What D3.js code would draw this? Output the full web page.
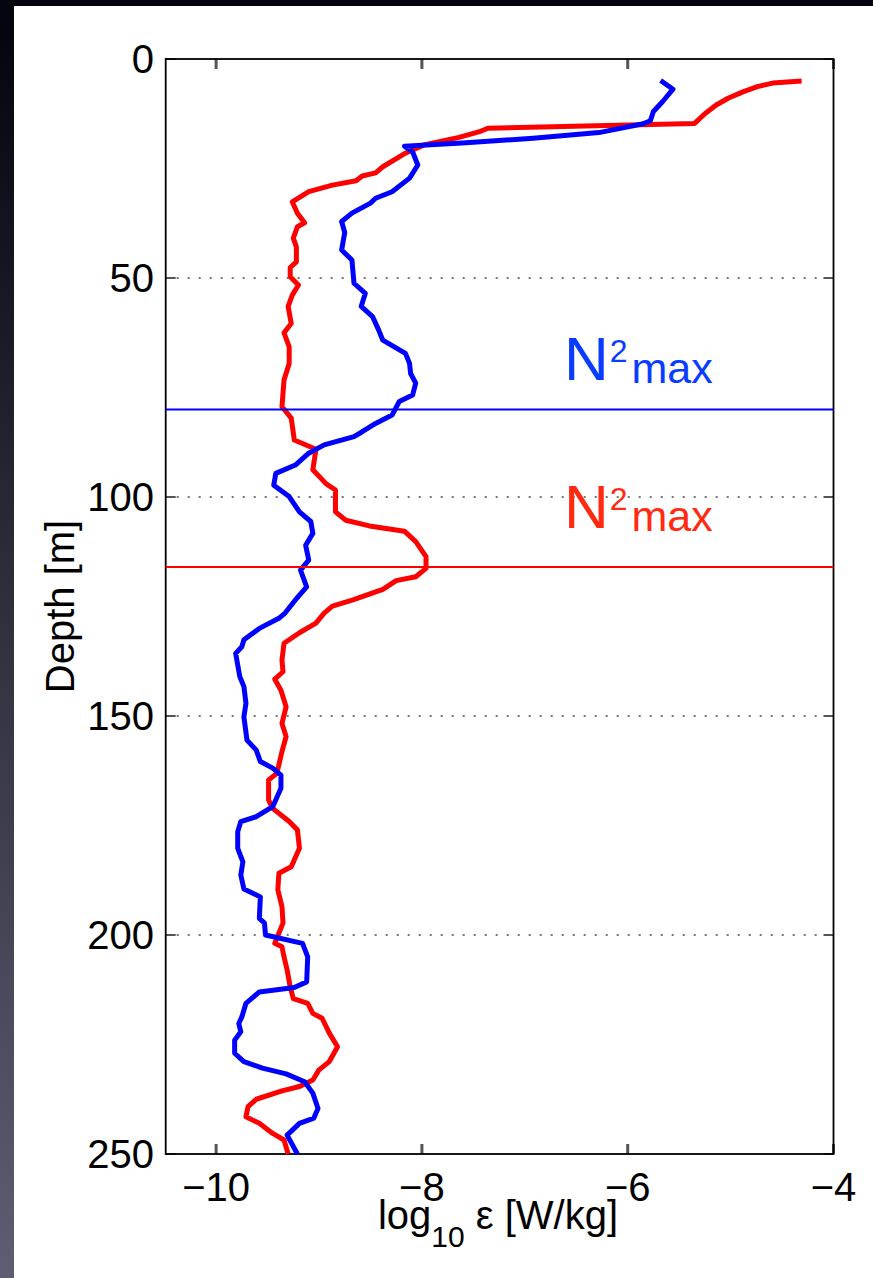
<!DOCTYPE html>
<html>
<head>
<meta charset="utf-8">
<script src="https://cdn.jsdelivr.net/npm/d3@7"></script>
<style>
  body { margin: 0; background: #000; }
  text { font-family: "Liberation Sans", Arial, sans-serif; }
</style>
</head>
<body>
<div id="chart"></div>
<script>
// depth [m] and log10 epsilon for the two profiles
var redDepth = [5.0, 5.5, 6.3, 7.5, 8.9, 10.5, 12.5, 14.7, 15.8, 16.6, 17.9, 19.6, 21.5, 24.6, 26.0, 26.7, 27.8, 28.8, 30.3, 32.6, 35.2, 37.4, 38.3,
  40.9, 42.9, 46.3, 47.6, 49.7, 51.6, 53.9, 56.5, 60.4, 62.5, 65.7, 69.5, 73.3, 79.4, 82.0, 87.0, 89.1, 93.8, 97.0, 98.4,
  103.4, 105.3, 106.6, 107.8, 110.2, 113.6, 116.3, 118.2, 119.1, 121.1, 123.5, 124.9, 126.5, 128.8, 131.0, 133.4, 137.2, 139.9, 141.6, 144.1,
  147.9, 151.7, 154.7, 158.1, 163.1, 164.6, 169.2, 171.1, 174.1, 176.0, 180.2, 184.4, 185.9, 189.7, 193.5, 197.3, 199.6, 201.9, 202.7, 205.0,
  208.0, 211.8, 214.5, 215.6, 217.9, 219.0, 222.4, 225.5, 228.9, 230.8, 233.1, 234.6, 235.6, 237.5, 239.2, 241.5, 243.0, 245.3, 246.8, 250];
var redEps = [-4.31, -4.59, -4.74, -4.88, -5.02, -5.14, -5.25, -5.35, -7.36, -7.44, -7.64, -7.98, -8.16, -8.38, -8.45, -8.58, -8.64, -8.87, -9.10, -9.26, -9.21, -9.14, -9.21,
  -9.25, -9.22, -9.22, -9.28, -9.28, -9.20, -9.26, -9.30, -9.27, -9.34, -9.29, -9.29, -9.34, -9.36, -9.27, -9.24, -9.03, -9.06, -8.93, -8.84,
  -8.84, -8.74, -8.51, -8.17, -8.06, -7.96, -7.96, -8.06, -8.25, -8.38, -8.67, -8.87, -8.95, -9.03, -9.19, -9.34, -9.36, -9.35, -9.43, -9.37,
  -9.32, -9.36, -9.32, -9.36, -9.41, -9.49, -9.49, -9.45, -9.29, -9.21, -9.19, -9.27, -9.39, -9.40, -9.36, -9.35, -9.39, -9.43, -9.36, -9.34,
  -9.31, -9.28, -9.25, -9.11, -9.06, -8.97, -8.90, -8.82, -8.90, -9.00, -9.06, -9.19, -9.36, -9.61, -9.69, -9.71, -9.58, -9.45, -9.34, -9.30];

var blueDepth = [4.9, 6.9, 9.7, 12.0, 14.1, 14.8, 16.8, 18.1, 19.1, 19.9, 21.2, 24.2, 27.2, 30.3, 31.8, 32.9, 35.2, 37.1, 39.6, 43.6,
  45.9, 51.2, 53.5, 56.5, 58.8, 61.9, 64.2, 67.2, 69.5, 71.8, 74.0, 76.7, 78.2, 81.3, 83.2, 85.1, 86.2, 88.1, 90.0, 92.7,
  94.6, 97.3, 99.9, 103.4, 105.6, 108.3, 111.0, 114.4, 116.7, 120.5, 123.5, 126.5, 127.7, 130.0, 132.6, 134.2, 135.7, 141.0, 143.3, 147.1,
  150.2, 155.5, 157.8, 160.4, 161.9, 163.5, 166.5, 170.7, 173.0, 174.1, 176.4, 180.2, 183.3, 186.3, 189.5, 191.3, 196.2, 197.3, 200.0, 201.9,
  205.0, 210.7, 212.0, 213.0, 215.6, 218.7, 220.2, 222.1, 224.0, 227.0, 228.9, 230.4, 231.7, 233.5, 236.1, 239.6, 241.8, 243.0, 245.7, 250];
var blueEps = [-5.68, -5.56, -5.66, -5.75, -5.78, -5.85, -6.28, -6.92, -7.57, -8.17, -8.09, -8.04, -8.12, -8.29, -8.45, -8.50, -8.68, -8.78, -8.75, -8.78,
  -8.68, -8.66, -8.55, -8.59, -8.48, -8.42, -8.38, -8.16, -8.12, -8.11, -8.06, -8.09, -8.22, -8.29, -8.45, -8.58, -8.66, -8.95, -9.10, -9.23,
  -9.42, -9.44, -9.29, -9.19, -9.08, -9.06, -9.13, -9.10, -9.18, -9.12, -9.23, -9.33, -9.39, -9.58, -9.73, -9.75, -9.81, -9.77, -9.73, -9.71,
  -9.73, -9.70, -9.61, -9.57, -9.45, -9.37, -9.37, -9.45, -9.61, -9.76, -9.79, -9.79, -9.74, -9.76, -9.73, -9.57, -9.58, -9.53, -9.52, -9.16,
  -9.11, -9.12, -9.24, -9.58, -9.71, -9.75, -9.78, -9.76, -9.82, -9.82, -9.73, -9.55, -9.32, -9.14, -9.06, -9.01, -9.05, -9.19, -9.31, -9.21];

// N^2 max depths (horizontal markers)
var n2maxBlue = 80, n2maxRed = 116;

var xTicks = [-10, -8, -6, -4];
var yTicks = [0, 50, 100, 150, 200, 250];

var W = 873, H = 1278;
var svg = d3.select("#chart").append("svg")
  .attr("width", W).attr("height", H);

// dark slide background with a gradient strip on the left
var defs = svg.append("defs");
var grad = defs.append("linearGradient").attr("id", "bg")
  .attr("x1", 0).attr("y1", 0).attr("x2", 0).attr("y2", 1);
grad.append("stop").attr("offset", "0%").attr("stop-color", "#03030d");
grad.append("stop").attr("offset", "100%").attr("stop-color", "#5e5e72");
svg.append("rect").attr("width", W).attr("height", H).attr("fill", "url(#bg)");
svg.append("rect").attr("width", W).attr("height", 6).attr("fill", "#04040c");
svg.append("rect").attr("x", 14).attr("y", 6).attr("width", W - 14).attr("height", H - 6).attr("fill", "#fff");

var x = d3.scaleLinear().domain([-10.49, -4]).range([165.7, 833.5]);
var y = d3.scaleLinear().domain([0, 250]).range([59, 1154]);
var x0 = x.range()[0], x1 = x.range()[1], y0 = y.range()[0], y1 = y.range()[1];

// dotted grid
svg.append("g").attr("fill", "none").attr("stroke", "#666").attr("stroke-dasharray", "2,9")
  .selectAll("path").data(xTicks.filter(function(d) { return d > -4; })).enter().append("path")
  .attr("d", function(d) { return "M" + x(d) + "," + y0 + "L" + x(d) + "," + y1; })
  .attr("stroke-width", 3);
svg.append("g").attr("fill", "none").attr("stroke", "#777").attr("stroke-dasharray", "2,9")
  .selectAll("path").data(yTicks.filter(function(d) { return d > 0 && d < 250; })).enter().append("path")
  .attr("d", function(d) { return "M" + x0 + "," + y(d) + "L" + x1 + "," + y(d); })
  .attr("stroke-width", 1.8);

// axes (ticks inward on all four sides)
var tl = 10;
function inwardTicks(g, size, width) {
  g.select(".domain").remove();
  g.selectAll(".tick line").attr("stroke", "#555").attr("stroke-width", width);
}
svg.append("g").attr("transform", "translate(-0.5," + y1 + ")")
  .call(d3.axisBottom(x).tickValues(xTicks).tickSize(-tl).tickFormat(""))
  .call(inwardTicks, tl, 3);
svg.append("g").attr("transform", "translate(-0.5," + y0 + ")")
  .call(d3.axisTop(x).tickValues(xTicks).tickSize(-tl).tickFormat(""))
  .call(inwardTicks, tl, 3);
svg.append("g").attr("transform", "translate(" + x0 + ",-0.5)")
  .call(d3.axisLeft(y).tickValues(yTicks).tickSize(-tl).tickFormat(""))
  .call(inwardTicks, tl, 2);
svg.append("g").attr("transform", "translate(" + x1 + ",-0.5)")
  .call(d3.axisRight(y).tickValues(yTicks).tickSize(-tl).tickFormat(""))
  .call(inwardTicks, tl, 2);

svg.append("g").selectAll("text").data(xTicks).enter().append("text")
  .attr("x", function(d) { return x(d); }).attr("y", 1201)
  .attr("text-anchor", "middle").style("font-size", "40px")
  .text(function(d) { return "\u2212" + Math.abs(d); });
svg.append("g").selectAll("text").data(yTicks).enter().append("text")
  .attr("x", 154).attr("y", function(d) { return y(d) + 14; })
  .attr("text-anchor", "end").style("font-size", "40px")
  .text(function(d) { return d; });

svg.append("rect").attr("x", x0).attr("y", y0).attr("width", x1 - x0).attr("height", y1 - y0)
  .attr("fill", "none").attr("stroke", "#000").attr("stroke-width", 1.8);

// profiles
var line = d3.line()
  .x(function(d) { return x(d[1]); })
  .y(function(d) { return y(d[0]); });
var redData = d3.zip(redDepth, redEps);
var blueData = d3.zip(blueDepth, blueEps);
svg.append("path").datum(redData).attr("d", line)
  .attr("fill", "none").attr("stroke", "#ff0000").attr("stroke-width", 5)
  .attr("stroke-linejoin", "round").attr("stroke-linecap", "butt");
svg.append("path").datum(blueData).attr("d", line)
  .attr("fill", "none").attr("stroke", "#0000ff").attr("stroke-width", 5)
  .attr("stroke-linejoin", "round").attr("stroke-linecap", "butt");

// N2max markers
svg.append("line").attr("x1", x0).attr("x2", x1)
  .attr("y1", y(n2maxBlue)).attr("y2", y(n2maxBlue))
  .attr("stroke", "#0000ff").attr("stroke-width", 2);
svg.append("line").attr("x1", x0).attr("x2", x1)
  .attr("y1", y(n2maxRed)).attr("y2", y(n2maxRed))
  .attr("stroke", "#ff0000").attr("stroke-width", 2);

function n2label(depth, color) {
  var t = svg.append("text").attr("x", x(-6.62)).attr("y", y(depth))
    .attr("fill", color).style("font-size", "62px");
  t.append("tspan").text("N");
  t.append("tspan").attr("dy", -18).attr("dx", 1).style("font-size", "32px").text("2");
  t.append("tspan").attr("dy", 21).attr("dx", 4).style("font-size", "43px").text("max");
}
n2label(73.3, "#0a3cff");
n2label(107.1, "#ff2a10");

// axis labels
svg.append("text").attr("transform", "translate(74," + ((y0 + y1) / 2) + ") rotate(-90)")
  .attr("text-anchor", "middle").style("font-size", "40px").text("Depth [m]");
var xl = svg.append("text").attr("x", 498).attr("y", 1229)
  .attr("text-anchor", "middle").style("font-size", "40px");
xl.append("tspan").text("log");
xl.append("tspan").attr("dy", 18).style("font-size", "30px").text("10");
xl.append("tspan").attr("dy", -18).text(" \u03b5 [W/kg]");
</script>
</body>
</html>
